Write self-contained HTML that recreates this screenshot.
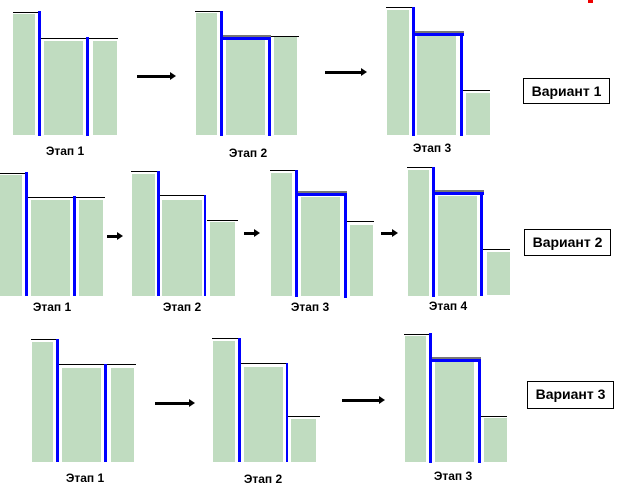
<!DOCTYPE html>
<html><head><meta charset="utf-8">
<style>
body{margin:0;background:#fff;}
#c{position:relative;width:618px;height:490px;overflow:hidden;background:#fff;font-family:"Liberation Sans",sans-serif;}
#c div{position:absolute;}
.lbl{font-size:12px;font-weight:bold;color:#000;transform:translateX(-50%);white-space:nowrap;}
.box{border:1px solid #000;font-size:14px;font-weight:bold;text-align:center;line-height:24px;background:#fff;}
</style></head><body>
<div id="c">
<div class="box" style="left:523px;top:78px;width:85px;height:24px;">Вариант 1</div>
<div class="box" style="left:524px;top:229px;width:85px;height:25px;">Вариант 2</div>
<div class="box" style="left:527px;top:381px;width:85px;height:26px;">Вариант 3</div>
<div style="left:588px;top:0;width:5px;height:3px;background:#e00;"></div>
</div>
<script>
const c=document.getElementById('c');
// bars: [x0,x1,top,bottom]
const bars=[
[13,35,14,135],[44,83,41,135],[93,117,41,135],
[196,217,13,135],[226,265,40,135],[274,297,37,135],
[387,409,10,135],[417,456,36,135],[466,490,93,135],
[0,22,175,296],[31,70,200,296],[79,103,200,296],
[132,155,174,296],[162,202,200,296],[210,235,222,296],
[271,292,173,296],[301,340,197,296],[350,373,225,296],
[408,429,170,296],[438,477,196,296],[487,510,252,295],
[32,53,342,462],[62,101,368,462],[111,134,368,462],
[213,235,341,462],[244,283,367,462],[291,316,419,462],
[405,426,336,462],[435,474,362,462],[484,507,418,462]];
// black lines: [x0,x1,y]
const blk=[[13,40,12],[40,118,38],[195,221,11],[270,299,36],[386,413,7],[462,490,90],
[0,26,173],[28,105,197],[131,158,171],[160,206,195],[207,238,220],[270,296,170],[347,374,221],[407,433,167],[483,510,249],
[31,57,339],[58,136,364],[212,239,338],[240,287,363],[288,320,416],[404,430,334],[481,507,416]];
// blue verticals: [x,y0,y1,w]
const bv=[[38,11,136,3],[86,37,136,3],[220,11,136,3],[268,38,136,3],[412,7,136,3],[460,34,136,3],
[25,172,296,3],[73,196,296,3],[157,171,296,3],[204,195,296,2],[295,170,297,3],[344,193,298,3],[432,167,297,3],[480,193,296,3],
[56,339,462,3],[104,364,462,3],[238,338,462,3],[286,363,462,2],[429,333,463,3],[478,360,463,3]];
// blue horizontals: [x0,x1,y]
const bh=[[220,271,37],[412,464,33],[296,347,193],[432,484,192],[429,481,359]];
// arrows: [x0,x1,y]
const arrows=[[137,176,76],[325,367,72],[107,123,236],[244,260,233],[381,398,233],[155,195,403],[342,385,400]];
// labels: [x,y,text]
const labels=[[65,144,'Этап 1'],[248,146,'Этап 2'],[432,141,'Этап  3'],
[52,300,'Этап 1'],[182,300,'Этап 2'],[310,300,'Этап  3'],[448,299,'Этап 4'],
[85,471,'Этап 1'],[263,472,'Этап 2'],[453,469,'Этап  3']];
function mk(x,y,w,h,bg){const d=document.createElement('div');d.style.cssText=`left:${x}px;top:${y}px;width:${w}px;height:${h}px;background:${bg};`;c.appendChild(d);return d;}
bars.forEach(b=>{const d=mk(b[0],b[2],b[1]-b[0],b[3]-b[2],'#c0dcc0');

});
blk.forEach(l=>{const d=mk(l[0],l[2],l[1]-l[0],1,'#000');

});
bh.forEach(l=>{const g=mk(l[0],l[2]-2,l[1]-l[0],2,'#777');


const d=mk(l[0],l[2],l[1]-l[0],3,'#0000ff');

});
bv.forEach(v=>{const d=mk(v[0],v[1],v[3],v[2]-v[1],'#0000ff');

});
arrows.forEach(a=>{const d=mk(a[0],a[2]-1,a[1]-a[0]-5,3,'#000');


const h=mk(a[1]-6,a[2]-4,0,0,'transparent');
h.style.borderLeft='6px solid #000';h.style.borderTop='4.5px solid transparent';h.style.borderBottom='4.5px solid transparent';

});
labels.forEach(l=>{const d=document.createElement('div');d.className='lbl';d.style.left=l[0]+'px';d.style.top=l[1]+'px';d.textContent=l[2];c.appendChild(d);

});
</script>
</body></html>
